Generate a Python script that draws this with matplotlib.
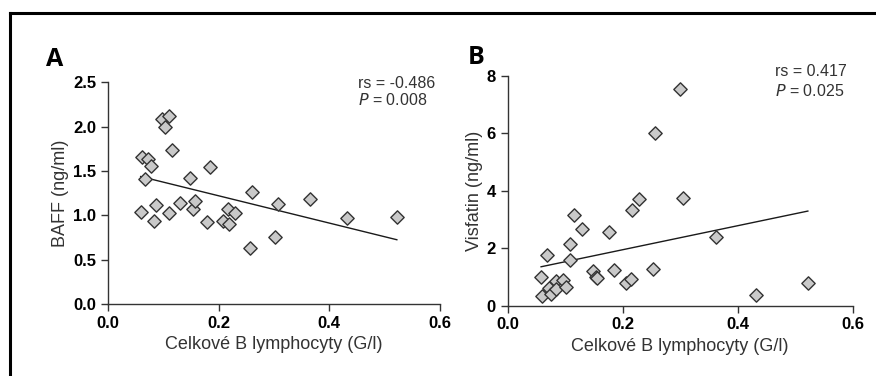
import numpy as np
import matplotlib.pyplot as plt
from matplotlib.lines import Line2D

# Data
baff_x = [0.059, 0.061, 0.072, 0.078, 0.067, 0.086, 0.083, 0.097, 0.103, 0.110,
          0.110, 0.116, 0.130, 0.149, 0.154, 0.158, 0.179, 0.185, 0.207, 0.216,
          0.219, 0.229, 0.256, 0.261, 0.302, 0.308, 0.365, 0.432, 0.522]
baff_y = [1.04, 1.66, 1.63, 1.56, 1.41, 1.11, 0.93, 2.09, 2.00, 2.12,
          1.02, 1.74, 1.14, 1.42, 1.07, 1.16, 0.92, 1.54, 0.94, 1.07,
          0.90, 1.03, 0.63, 1.26, 0.76, 1.13, 1.18, 0.97, 0.98]
baff_fit = (-1.538, 1.527)   # slope, intercept

visf_x = [0.058, 0.060, 0.068, 0.072, 0.076, 0.084, 0.084, 0.097, 0.102, 0.108,
          0.108, 0.115, 0.129, 0.149, 0.153, 0.156, 0.177, 0.184, 0.205, 0.215,
          0.216, 0.228, 0.253, 0.257, 0.299, 0.305, 0.362, 0.431, 0.522]
visf_y = [1.01, 0.34, 1.78, 0.60, 0.40, 0.86, 0.57, 0.90, 0.66, 2.14,
          1.58, 3.15, 2.67, 1.20, 1.00, 0.95, 2.55, 1.24, 0.80, 0.92,
          3.34, 3.73, 1.29, 6.02, 7.55, 3.74, 2.38, 0.37, 0.79]
visf_fit = (4.18, 1.113)

xlabel = "Celkové B lymphocyty (G/l)"

plt.rcParams['font.family'] = ['Liberation Sans', 'DejaVu Sans']

fig = plt.figure(figsize=(8.76, 3.76), dpi=100)

# ramecek (jen horni a leva hrana jsou videt)
fig.add_artist(Line2D([0.011, 1.0], [0.965, 0.965], transform=fig.transFigure,
                      color='black', lw=2.2))
fig.add_artist(Line2D([0.011, 0.011], [0.0, 0.965], transform=fig.transFigure,
                      color='black', lw=2.2))


def panel(rect, xs, ys, fit, ylim, yticks, ylabel, stat, stat_pos, letter, letter_pos):
    ax = fig.add_axes(rect)
    ax.scatter(xs, ys, marker='D', s=46, facecolor='#c9c9c9',
               edgecolor='#333333', linewidths=1.0, zorder=3)
    lx = np.array([min(xs), max(xs)])
    ax.plot(lx, fit[0] * lx + fit[1], color='#1a1a1a', lw=1.0, zorder=2)
    ax.set_xlim(0, 0.6)
    ax.set_ylim(*ylim)
    ax.set_xticks([0.0, 0.2, 0.4, 0.6])
    ax.set_xticklabels(['0.0', '0.2', '0.4', '0.6'])
    ax.set_yticks(yticks)
    for s in ['top', 'right']:
        ax.spines[s].set_visible(False)
    for s in ['left', 'bottom']:
        ax.spines[s].set_color('#333333')
        ax.spines[s].set_linewidth(1.0)
    ax.tick_params(direction='out', length=5, width=1.0, color='#333333',
                   labelsize=12)
    for t in ax.get_xticklabels() + ax.get_yticklabels():
        t.set_fontweight('bold')
    ax.set_xlabel(xlabel, fontsize=13, color='#333333', labelpad=4)
    ax.set_ylabel(ylabel, fontsize=13, color='#333333', labelpad=3)
    sx, sy1, sy2 = stat_pos
    ax.text(sx, sy1, stat[0], transform=ax.transAxes, fontsize=11.5,
            color='#333333', va='top', clip_on=False)
    ax.text(sx, sy2, stat[1], transform=ax.transAxes, fontsize=11.5,
            color='#333333', va='top', clip_on=False)
    fig.text(letter_pos[0], letter_pos[1], letter, fontsize=18,
             fontweight='bold', family=['Open Sans', 'DejaVu Sans'])
    ax.patch.set_alpha(0)
    return ax


panel([0.1233, 0.1915, 0.379, 0.590], baff_x, baff_y, baff_fit, (0, 2.5),
      [0.0, 0.5, 1.0, 1.5, 2.0, 2.5], 'BAFF (ng/ml)',
      ('rs = -0.486', '$\\it{P}$ = 0.008'), (0.752, 1.03, 0.955),
      'A', (0.053, 0.825))
panel([0.5796, 0.187, 0.3938, 0.611], visf_x, visf_y, visf_fit, (0, 8),
      [0, 2, 4, 6, 8], 'Visfatin (ng/ml)',
      ('rs = 0.417', '$\\it{P}$ = 0.025'), (0.776, 1.05, 0.97),
      'B', (0.534, 0.83))

fig.savefig('out.png', dpi=100)
